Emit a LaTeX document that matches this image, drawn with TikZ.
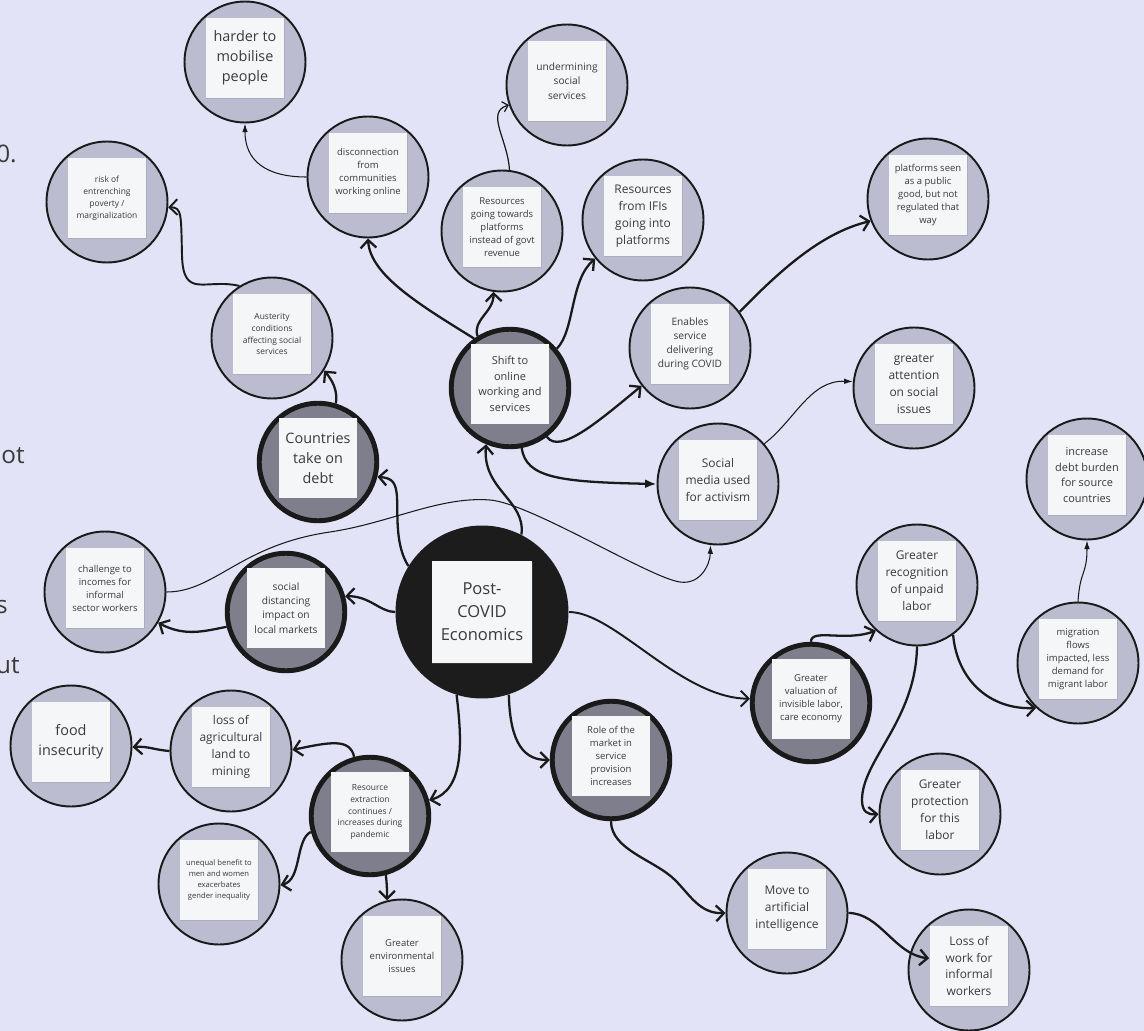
\documentclass[tikz,border=0pt]{standalone}
\usepackage{fontspec}
\setmainfont{Open Sans}
\usetikzlibrary{arrows.meta, shadows}

\definecolor{bgcol}{HTML}{E3E3F7}
\definecolor{lightfill}{HTML}{BCBCD1}
\definecolor{darkfill}{HTML}{7F7E8C}
\definecolor{corefill}{HTML}{1C1C1C}
\definecolor{notefill}{HTML}{F5F6F8}
\definecolor{inkgray}{HTML}{3A3A3A}
\definecolor{linecol}{HTML}{1A1A1A}

\tikzset{
	lightcirc/.style={circle, draw=linecol, line width=1.1pt, fill=lightfill, minimum size=2.42cm, inner sep=0pt},
	darkcirc/.style={circle, draw=linecol, line width=2.8pt, fill=darkfill, minimum size=2.35cm, inner sep=0pt},
	corecirc/.style={circle, fill=corefill, minimum size=3.46cm, inner sep=0pt},
	note/.style={rectangle, fill=notefill, minimum width=1.58cm, minimum height=1.6cm, inner sep=1pt,
		align=center, text=inkgray, yshift=0.08cm,
		drop shadow={shadow xshift=0.5pt, shadow yshift=-0.7pt, opacity=0.25}},
	corenote/.style={note, minimum width=2.02cm, minimum height=2.04cm, yshift=-0.08cm},
	corefont/.style={font=\fontsize{9.4pt}{13pt}\selectfont},
	bigfont/.style={font=\fontsize{8.2pt}{11.3pt}\selectfont},
	midfont/.style={font=\fontsize{6.8pt}{9.6pt}\selectfont},
	smallfont/.style={font=\fontsize{6.25pt}{8.8pt}\selectfont},
	smallerfont/.style={font=\fontsize{5.8pt}{8.1pt}\selectfont},
	tinyfont/.style={font=\fontsize{5.4pt}{7.4pt}\selectfont},
	tinierfont/.style={font=\fontsize{4.8pt}{6.8pt}\selectfont},
	microfont/.style={font=\fontsize{4.35pt}{6.2pt}\selectfont},
	fragment/.style={font=\fontsize{13.8pt}{16pt}\selectfont, text=inkgray, inner sep=0pt, anchor=base east},
	link/.style={draw=linecol, line width=1.3pt, -{Straight Barb[length=4.5pt, width=9pt]}},
	thinbarb/.style={draw=linecol, line width=0.7pt, -{Straight Barb[length=3pt, width=6pt]}},
	thinlink/.style={draw=linecol, line width=0.6pt, -{Latex[length=5pt, width=3.2pt]}},
	solidlink/.style={draw=linecol, line width=1.3pt, -{Latex[length=6.5pt, width=5pt]}}
}

\begin{document}
\begin{tikzpicture}[x=0.02cm, y=-0.02cm]
					% Canvas
						\useasboundingbox (0,0) rectangle (1144,1031);
						\clip (0,0) rectangle (1144,1031);
						\fill [bgcol] (0,0) rectangle (1144,1031);

					% Cut-off text at the left edge
						\node [fragment] (cut-a) at (17,162) {0.};
						\node [fragment] (cut-b) at (25,463) {lot};
						\node [fragment] (cut-c) at (8,613) {s};
						\node [fragment] (cut-d) at (20,673) {ut};

					% The centre
						\node [corecirc] (core) at (482,612) {};
						\node [corenote, corefont] (core-txt) at (core) {Post-\\COVID\\Economics};

					% Dark circles
						\node [darkcirc] (debt) at (318,462) {};
						\node [note, bigfont] (debt-txt) at (debt) {Countries\\take on\\debt};
						\node [darkcirc] (dist) at (286,612) {};
						\node [note, smallerfont] (dist-txt) at (dist) {social\\distancing\\impact on\\local markets};
						\node [darkcirc] (shift) at (510,388) {};
						\node [note, smallfont] (shift-txt) at (shift) {Shift to\\online\\working and\\services};
						\node [darkcirc] (care) at (811,703) {};
						\node [note, tinyfont] (care-txt) at (care) {Greater\\valuation of\\invisible labor,\\care economy};
						\node [darkcirc] (market) at (611,760) {};
						\node [note, tinyfont] (market-txt) at (market) {Role of the\\market in\\service\\provision\\increases};
						\node [darkcirc] (extr) at (370,816) {};
						\node [note, tinierfont] (extr-txt) at (extr) {Resource\\extraction\\continues /\\increases during\\pandemic};

					% Light circles
						\node [lightcirc] (harder) at (245,62) {};
						\node [note, bigfont] (harder-txt) at (harder) {harder to\\mobilise\\people};
						\node [lightcirc] (disc) at (368,177) {};
						\node [note, tinyfont] (disc-txt) at (disc) {disconnection\\from\\communities\\working online};
						\node [lightcirc] (risk) at (107,202) {};
						\node [note, tinierfont] (risk-txt) at (risk) {risk of\\entrenching\\poverty /\\marginalization};
						\node [lightcirc] (aust) at (272,338) {};
						\node [note, tinierfont] (aust-txt) at (aust) {Austerity\\conditions\\affecting social\\services};
						\node [lightcirc] (chal) at (105,592) {};
						\node [note, tinyfont] (chal-txt) at (chal) {challenge to\\incomes for\\informal\\sector workers};
						\node [lightcirc] (plat) at (502,231) {};
						\node [note, tinyfont] (plat-txt) at (plat) {Resources\\going towards\\platforms\\instead of govt\\revenue};
						\node [lightcirc] (under) at (567,85) {};
						\node [note, smallerfont] (under-txt) at (under) {undermining\\social\\services};
						\node [lightcirc] (ifis) at (643,220) {};
						\node [note, midfont] (ifis-txt) at (ifis) {Resources\\from IFIs\\going into\\platforms};
						\node [lightcirc] (enab) at (690,348) {};
						\node [note, smallerfont] (enab-txt) at (enab) {Enables\\service\\delivering\\during COVID};
						\node [lightcirc] (good) at (928,199) {};
						\node [note, tinyfont] (good-txt) at (good) {platforms seen\\as a public\\good, but not\\regulated that\\way};
						\node [lightcirc] (attn) at (914,388) {};
						\node [note, midfont] (attn-txt) at (attn) {greater\\attention\\on social\\issues};
						\node [lightcirc] (media) at (718,484) {};
						\node [note, midfont] (media-txt) at (media) {Social\\media used\\for activism};
						\node [lightcirc] (burden) at (1087,479) {};
						\node [note, smallfont] (burden-txt) at (burden) {increase\\debt burden\\for source\\countries};
						\node [lightcirc] (unpaid) at (917,585) {};
						\node [note, midfont] (unpaid-txt) at (unpaid) {Greater\\recognition\\of unpaid\\labor};
						\node [lightcirc] (migr) at (1078,663) {};
						\node [note, tinyfont] (migr-txt) at (migr) {migration\\flows\\impacted, less\\demand for\\migrant labor};
						\node [lightcirc] (prot) at (940,814) {};
						\node [note, midfont] (prot-txt) at (prot) {Greater\\protection\\for this\\labor};
						\node [lightcirc] (ai) at (787,913) {};
						\node [note, midfont] (ai-txt) at (ai) {Move to\\artificial\\intelligence};
						\node [lightcirc] (loss) at (969,970) {};
						\node [note, midfont] (loss-txt) at (loss) {Loss of\\work for\\informal\\workers};
						\node [lightcirc] (env) at (402,960) {};
						\node [note, tinyfont] (env-txt) at (env) {Greater\\environmental\\issues};
						\node [lightcirc] (gender) at (219,884) {};
						\node [note, microfont] (gender-txt) at (gender) {unequal benefit to\\men and women\\exacerbates\\gender inequality};
						\node [lightcirc] (land) at (231,751) {};
						\node [note, midfont] (land-txt) at (land) {loss of\\agricultural\\land to\\mining};
						\node [lightcirc] (food) at (71,746) {};
						\node [note, bigfont] (food-txt) at (food) {food\\insecurity};

					% Connectors out of the centre
						\draw [link] (core.148) .. controls (395,545) and (398,515) .. (397,497) .. controls (396,482) and (392,478) .. (debt.-14);
						\draw [link] (core.63) .. controls (526,500) and (482,490) .. (shift.-113);
						\draw [link] (core.180) .. controls (380,612) and (370,596) .. (dist.15);
						\draw [link, line width=1.1pt] (core.0) .. controls (615,612) and (680,698) .. (care.176);
						\draw [link] (core.-72) .. controls (510,745) and (525,760) .. (market.180);
						\draw [link] (core.-107) .. controls (462,740) and (465,790) .. (extr.15);

					% Debt and distancing branches
						\draw [link] (debt.73) .. controls (338,390) and (332,380) .. (aust.-32);
						\draw [link, line width=1.1pt] (aust.122) .. controls (205,278) and (183,300) .. (182,255) .. controls (181,215) and (182,207) .. (risk.-5);
						\draw [link] (dist.-166) .. controls (205,631) and (185,637) .. (chal.-30);
						\draw [thinlink] (chal.0) .. controls (215,592) and (240,545) .. (330,532) .. controls (390,523) and (440,496) .. (490,500) .. controls (530,503) and (650,578) .. (680,582) .. controls (700,585) and (710,565) .. (media.-97);

					% Online working branch
						\draw [link] (shift.126) .. controls (420,305) and (370,275) .. (disc.-90);
						\draw [thinlink] (disc.180) .. controls (265,177) and (245,160) .. (harder.-90);
						\draw [link] (shift.122) .. controls (472,320) and (494,312) .. (plat.-98);
						\draw [thinbarb] (plat.83) .. controls (508,140) and (485,112) .. (under.-161);
						\draw [link] (shift.40) .. controls (575,330) and (570,280) .. (ifis.-141);
						\draw [link] (shift.-53) .. controls (560,455) and (600,420) .. (enab.-142);
						\draw [link] (enab.36) .. controls (785,265) and (825,232) .. (good.-159);
						\draw [solidlink] (shift.-79) .. controls (526,478) and (560,482) .. (media.180);
						\draw [thinlink] (media.41) .. controls (795,420) and (810,380) .. (attn.174);

					% Care economy branch
						\draw [link] (care.90) .. controls (811,628) and (845,642) .. (unpaid.-132);
						\draw [link] (unpaid.-90) .. controls (916,720) and (862,760) .. (862,800) .. controls (862,812) and (868,815) .. (prot.180);
						\draw [link] (unpaid.-54) .. controls (957,680) and (990,710) .. (migr.-133);
						\draw [thinlink] (migr.90) .. controls (1080,570) and (1087,575) .. (burden.-90);

					% Market branch
						\draw [link] (market.-90) .. controls (611,850) and (655,860) .. (675,880) .. controls (690,895) and (700,914) .. (ai.180);
						\draw [link] (ai.0) .. controls (880,913) and (895,955) .. (loss-txt.169);

					% Extraction branch
						\draw [link] (extr.105) .. controls (350,738) and (330,742) .. (land.1);
						\draw [link] (land.180) .. controls (155,750) and (148,746) .. (food.-1);
						\draw [link] (extr.-165) .. controls (295,840) and (302,880) .. (gender.-1);
						\draw [link] (extr.-75) .. controls (387,885) and (387,890) .. (env.104);

					\end{tikzpicture}
\end{document}
